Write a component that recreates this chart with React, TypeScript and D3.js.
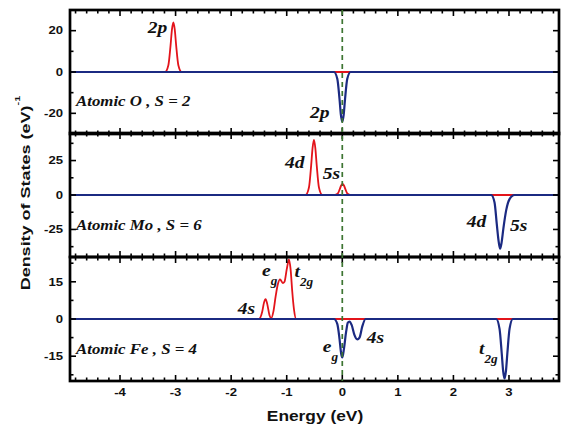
import * as d3 from 'd3';

const W = 564;
const H = 429;
const plotLeft = 70;
const plotRight = 559;
const panelTops = [10, 133, 257];
const panelH = 124;

const energyDomain: [number, number] = [-4.9, 3.9];
const energyTicks = [-4, -3, -2, -1, 0, 1, 2, 3];

// spin up (red) and spin down (blue) DOS: [energy eV, DOS]
const oUp: [number, number][] = [
  [-4.9, 0], [-3.19, 0], [-3.13, 3.3], [-3.09, 13], [-3.065, 20.6], [-3.04, 24],
  [-3.015, 20.6], [-2.99, 13], [-2.95, 3.3], [-2.89, 0], [3.9, 0],
];
const oDown: [number, number][] = [
  [-4.9, 0], [-0.15, 0], [-0.09, -3.3], [-0.05, -13], [-0.025, -20.7], [0, -24],
  [0.025, -20.7], [0.05, -13], [0.09, -3.3], [0.15, 0], [3.9, 0],
];
const moUp: [number, number][] = [
  [-4.9, 0], [-0.66, 0], [-0.6, 5.4], [-0.56, 21.5], [-0.535, 34], [-0.51, 40],
  [-0.485, 34], [-0.46, 21.5], [-0.42, 5.4], [-0.36, 0],
  [-0.14, 0], [-0.08, 1.1], [-0.045, 4.3], [-0.02, 6.9], [0.005, 8], [0.03, 6.9],
  [0.055, 4.3], [0.09, 1.1], [0.15, 0], [3.9, 0],
];
const moDown: [number, number][] = [
  [-4.9, 0], [2.68, 0], [2.74, -5.5], [2.78, -21], [2.815, -34], [2.84, -39],
  [2.865, -35], [2.9, -24], [2.95, -11], [3.01, -3], [3.1, 0], [3.9, 0],
];
const feUp: [number, number][] = [
  [-4.9, 0], [-1.5, 0], [-1.44, 3], [-1.41, 6.5], [-1.38, 8], [-1.35, 6],
  [-1.31, 1.5], [-1.28, 0.3], [-1.24, 3], [-1.2, 9], [-1.16, 14], [-1.12, 16],
  [-1.07, 14.5], [-1.04, 15], [-1.0, 20], [-0.96, 24], [-0.93, 20], [-0.9, 11],
  [-0.87, 4], [-0.83, 0], [3.9, 0],
];
const feDown: [number, number][] = [
  [-4.9, 0], [-0.15, 0], [-0.09, -2], [-0.05, -8], [-0.02, -14], [0, -15.5],
  [0.03, -12], [0.07, -5], [0.1, -1.5], [0.13, -1], [0.17, -2.5], [0.22, -6.5],
  [0.27, -8.2], [0.31, -7.5], [0.36, -3], [0.42, 0],
  [2.77, 0], [2.83, -4], [2.87, -14], [2.895, -21], [2.92, -24], [2.945, -21],
  [2.97, -14], [3.01, -4], [3.07, 0], [3.9, 0],
];

const oTicks = [-20, 0, 20];
const moTicks = [-25, 0, 25];
const feTicks = [-15, 0, 15];
const panelTitles = ['Atomic O , S = 2', 'Atomic Mo , S = 6', 'Atomic Fe , S = 4'];

// peak labels: panel, energy, DOS at baseline, text, subscript
const peakLabels: { p: number; e: number; v: number; t: string; sub?: string }[] = [
  { p: 0, e: -3.5, v: 18.8, t: '2p' },
  { p: 0, e: -0.58, v: -22.2, t: '2p' },
  { p: 1, e: -1.03, v: 19.6, t: '4d' },
  { p: 1, e: -0.35, v: 11.6, t: '5s' },
  { p: 1, e: 2.24, v: -23, t: '4d' },
  { p: 1, e: 3.02, v: -26.1, t: '5s' },
  { p: 2, e: -1.88, v: 2.0, t: '4s' },
  { p: 2, e: -1.445, v: 17.3, t: 'e', sub: 'g' },
  { p: 2, e: -0.86, v: 16.9, t: 't', sub: '2g' },
  { p: 2, e: -0.35, v: -13.3, t: 'e', sub: 'g' },
  { p: 2, e: 0.44, v: -9.7, t: '4s' },
  { p: 2, e: 2.46, v: -14.1, t: 't', sub: '2g' },
];

const panels = [
  { dom: [-30, 30], ticks: oTicks, up: oUp, down: oDown },
  { dom: [-45, 45], ticks: moTicks, up: moUp, down: moDown },
  { dom: [-25, 25], ticks: feTicks, up: feUp, down: feDown },
];

const RED = '#e3141b';
const BLUE = '#1b2a82';
const sans = '"Liberation Sans", Arial, sans-serif';
const serif = '"Liberation Serif", "Times New Roman", serif';

export default function App() {
  const x = d3.scaleLinear().domain(energyDomain).range([plotLeft, plotRight]);
  const minorX = d3.range(-24, 20).map((i) => i / 5);
  const pw = plotRight - plotLeft;

  return (
    <svg width={W} height={H} style={{ position: 'absolute', left: 0, top: 0, background: '#fff' }}>
      {panels.map((pn, pi) => {
        const top = panelTops[pi];
        const y = d3.scaleLinear().domain(pn.dom).range([top + panelH, top]);
        const line = d3.line<[number, number]>()
          .x((d) => x(d[0]))
          .y((d) => y(d[1]))
          .curve(d3.curveMonotoneX);
        const step = pn.ticks[1] - pn.ticks[0];
        const minorY = d3.range(-3, 4).map((k) => (k * step) / 2)
          .filter((v) => v > pn.dom[0] && v < pn.dom[1]);
        return (
          <g key={pi}>
            <path d={line(pn.up) || ''} fill="none" stroke={RED} strokeWidth={1.8} />
            <path d={line(pn.down) || ''} fill="none" stroke={BLUE} strokeWidth={2.2} />
            {/* x ticks, top and bottom, inside */}
            {minorX.map((e, i) => {
              const major = Math.abs(e - Math.round(e)) < 1e-6;
              const len = major ? 6 : 3.5;
              return (
                <g key={'x' + i} stroke="#000" strokeWidth={1.6}>
                  <line x1={x(e)} x2={x(e)} y1={top} y2={top + len} />
                  <line x1={x(e)} x2={x(e)} y1={top + panelH} y2={top + panelH - len} />
                </g>
              );
            })}
            {minorY.map((v, i) => {
              const major = pn.ticks.includes(v);
              const len = major ? 6 : 3.5;
              return (
                <g key={'y' + i} stroke="#000" strokeWidth={1.6}>
                  <line x1={plotLeft} x2={plotLeft + len} y1={y(v)} y2={y(v)} />
                  <line x1={plotRight} x2={plotRight - len} y1={y(v)} y2={y(v)} />
                </g>
              );
            })}
            {pn.ticks.map((v) => (
              <text key={'yl' + v} transform={`translate(63,${y(v) + 3.8}) scale(1.25,1)`}
                textAnchor="end" fontFamily={sans} fontWeight="bold" fontSize={10.5} fill="#111">
                {v}
              </text>
            ))}
            <text transform={`translate(76,${top + 96 + pi * 0.5}) scale(1.24,1)`}
              fontFamily={serif} fontStyle="italic" fontWeight="bold" fontSize={13.6} fill="#111">
              {panelTitles[pi]}
            </text>
            {peakLabels.filter((l) => l.p === pi).map((l, i) => (
              <text key={'pl' + i} transform={`translate(${x(l.e)},${y(l.v)}) scale(1.15,1)`}
                fontFamily={serif} fontStyle="italic" fontWeight="bold" fontSize={17} fill="#111">
                {l.t}
                {l.sub && <tspan dy={9} fontSize={11.5}>{l.sub}</tspan>}
              </text>
            ))}
            <rect x={plotLeft} y={top} width={pw} height={panelH} fill="none" stroke="#000" strokeWidth={2.7} />
          </g>
        );
      })}
      <line x1={x(0)} x2={x(0)} y1={panelTops[0]} y2={panelTops[2] + panelH}
        stroke="#3d7532" strokeWidth={1.7} strokeDasharray="5,4" />
      {energyTicks.map((e) => (
        <text key={'xl' + e} transform={`translate(${x(e)},396) scale(1.25,1)`}
          textAnchor="middle" fontFamily={sans} fontWeight="bold" fontSize={10.5} fill="#111">
          {e}
        </text>
      ))}
      <text transform="translate(315,420.5) scale(1.12,1)" textAnchor="middle"
        fontFamily={sans} fontWeight="bold" fontSize={15.5} fill="#111">
        Energy (eV)
      </text>
      <text transform="translate(29.5,193) rotate(-90) scale(1,0.72)" textAnchor="middle"
        fontFamily={sans} fontWeight="bold" fontSize={18} fill="#111">
        Density of States (eV)
        <tspan dy={-13} fontSize={11}>-1</tspan>
      </text>
    </svg>
  );
}
